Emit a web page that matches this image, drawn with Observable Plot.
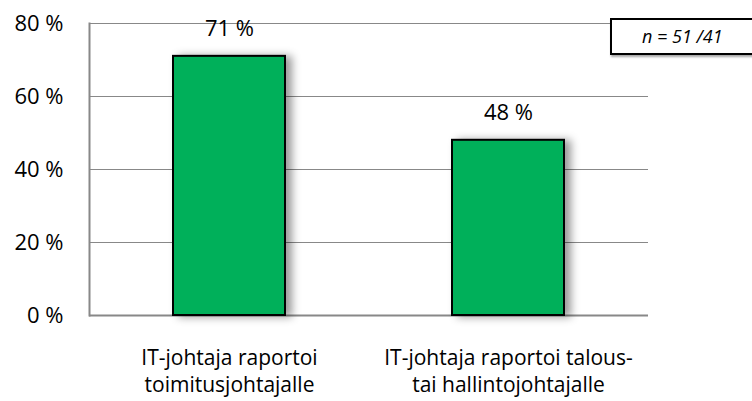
<!DOCTYPE html>
<html>
<head>
<meta charset="utf-8">
<script src="https://cdn.jsdelivr.net/npm/d3@7"></script>
<script src="https://cdn.jsdelivr.net/npm/@observablehq/plot@0.6"></script>
<style>
  html, body { margin: 0; padding: 0; background: #fff; }
  #wrap { position: relative; width: 752px; height: 401px; overflow: hidden; font-family: "Open Sans", sans-serif; }
  #nbox { position: absolute; left: 610px; top: 18px; width: 150px; height: 37px; box-sizing: border-box;
          border: 2px solid #000; background: #fff; font-style: italic; font-size: 18px;
          line-height: 33px; padding-left: 30px; color: #000; box-shadow: 1px 2px 2px rgba(0,0,0,0.35); }
</style>
</head>
<body>
<div id="wrap"></div>
<script>
const categories = ["IT-johtaja raportoi\ntoimitusjohtajalle", "IT-johtaja raportoi talous-\ntai hallintojohtajalle"];
const values = [71, 48];
const yTicks = [0, 20, 40, 60, 80];
const nLabel = "n = 51 /41";

const data = categories.map((c, i) => ({category: c, value: values[i]}));

const chart = Plot.plot({
  width: 752,
  height: 401,
  marginLeft: 89,
  marginRight: 104,
  marginTop: 23,
  marginBottom: 86,
  style: {fontFamily: "'Open Sans', sans-serif", fontSize: "22px", color: "#000", background: "#fff", overflow: "visible"},
  x: {domain: categories, paddingInner: 0.6, paddingOuter: 0.3},
  y: {domain: [0, 80]},
  marks: [
    Plot.gridY(yTicks, {stroke: "#888", strokeOpacity: 1, strokeWidth: 1}),
    Plot.frame({anchor: "left", stroke: "#888", strokeWidth: 2}),
    Plot.ruleY([0], {stroke: "#888", strokeWidth: 2}),
    Plot.barY(data, {x: "category", y: "value", fill: "#00B05A", stroke: "#000", strokeWidth: 2,
      imageFilter: "drop-shadow(6px 1px 4px rgba(0,0,0,0.4))"}),
    Plot.text(data, {x: "category", y: "value", text: d => d.value + " %", dy: -27, fontSize: 22, fill: "#000"}),
    Plot.axisY(yTicks, {tickSize: 0, tickPadding: 26, tickFormat: d => d + " %", fontSize: 22, label: null}),
    Plot.axisX({tickSize: 0, tickPadding: 30, fontSize: 21, lineHeight: 1.3, label: null})
  ]
});

const wrap = document.getElementById("wrap");
wrap.appendChild(chart);
const box = document.createElement("div");
box.id = "nbox";
box.textContent = nLabel;
wrap.appendChild(box);
</script>
</body>
</html>
